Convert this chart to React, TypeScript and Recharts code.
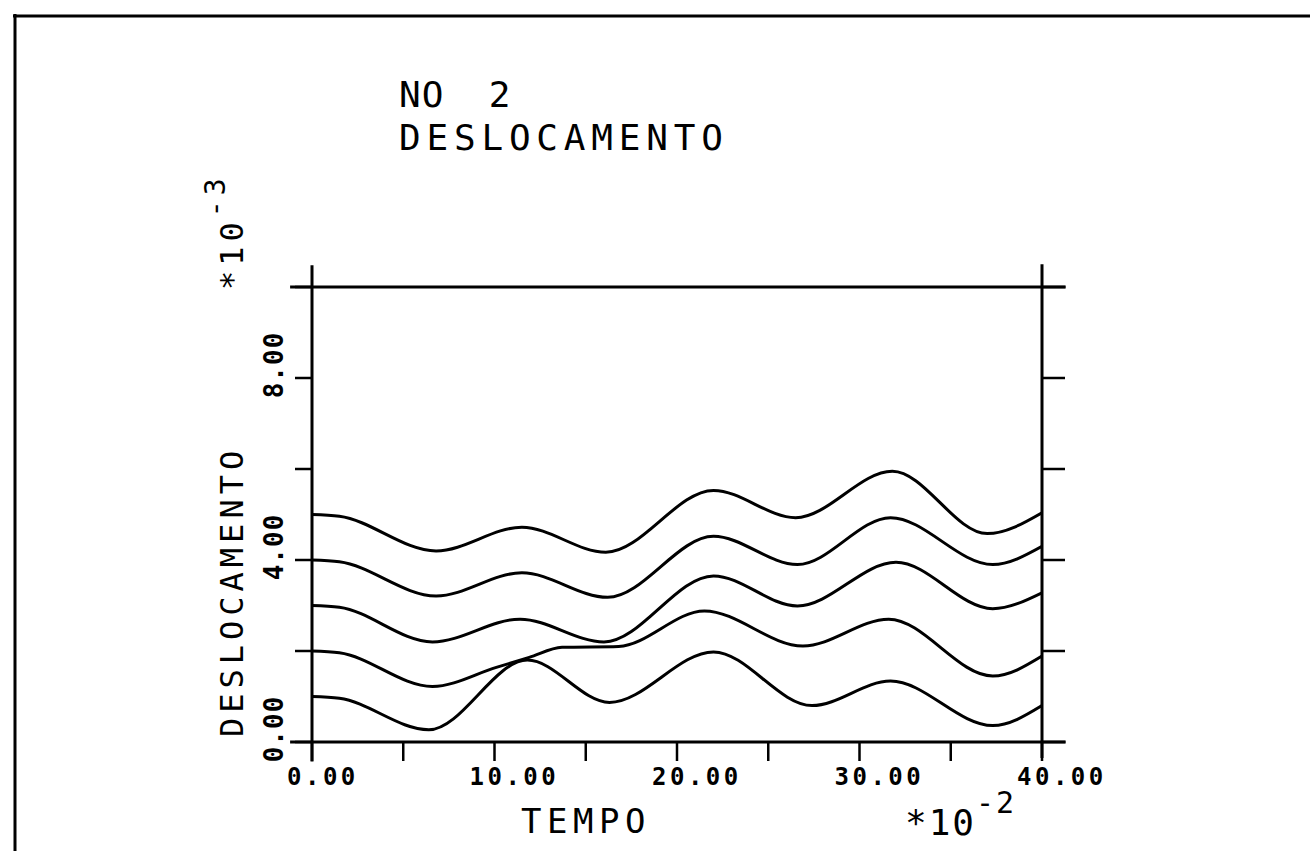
import React from "react";
import { LineChart, Line, XAxis, YAxis, ReferenceLine } from "recharts";

// tempo (*10^-2) e deslocamento (*10^-3), uma curva por par
const tempo1 = [0, 1.5, 6.8, 11.5, 16.1, 22.0, 26.5, 31.8, 37.0, 40];
const desl1 = [5.0, 4.96, 4.2, 4.72, 4.17, 5.53, 4.93, 5.95, 4.58, 5.04];

const tempo2 = [0, 1.5, 6.8, 11.5, 16.2, 22.0, 26.6, 31.7, 37.3, 40];
const desl2 = [4.0, 3.96, 3.21, 3.72, 3.18, 4.52, 3.9, 4.93, 3.9, 4.3];

const tempo3 = [0, 1.5, 6.6, 11.4, 16.0, 22.0, 26.6, 32.0, 37.3, 40];
const desl3 = [3.0, 2.96, 2.2, 2.7, 2.2, 3.65, 2.99, 3.95, 2.93, 3.28];

const tempo4 = [0, 1.5, 6.6, 10.1, 11.9, 13.7, 16.8, 21.5, 26.9, 31.6, 37.3, 40];
const desl4 = [2.0, 1.96, 1.22, 1.64, 1.86, 2.08, 2.1, 2.88, 2.11, 2.7, 1.45, 1.89];

const tempo5 = [0, 1.5, 6.4, 11.8, 16.3, 22.0, 27.4, 31.7, 37.3, 40];
const desl5 = [1.0, 0.96, 0.27, 1.8, 0.87, 1.98, 0.8, 1.34, 0.36, 0.8];

const xTicks = [0, 5, 10, 15, 20, 25, 30, 35, 40];
const xLabelled = [0, 10, 20, 30, 40];
const yTicks = [0, 2, 4, 6, 8, 10];
const yLabelled = [0, 4, 8];

const FONT = "'DejaVu Sans Mono', monospace";

const toPoints = (t: number[], d: number[]) => t.map((x, i) => ({ t: x, d: d[i] }));

const curvas = [
  { name: "curva 1", data: toPoints(tempo1, desl1) },
  { name: "curva 2", data: toPoints(tempo2, desl2) },
  { name: "curva 3", data: toPoints(tempo3, desl3) },
  { name: "curva 4", data: toPoints(tempo4, desl4) },
  { name: "curva 5", data: toPoints(tempo5, desl5) },
];

const semRotulo = () => <g />;

const rotuloX = (props: any) => {
  const { x, y, payload } = props;
  if (!xLabelled.includes(payload.value)) return <g />;
  return (
    <text x={x - 25} y={y + 22} fontFamily={FONT} fontSize={24} fontWeight="bold" letterSpacing={3.5} fill="#000">
      {payload.value.toFixed(2)}
    </text>
  );
};

const rotuloY = (props: any) => {
  const { x, y, payload } = props;
  if (!yLabelled.includes(payload.value)) return <g />;
  return (
    <text
      transform={`translate(${x - 10}, ${y - 13}) rotate(-90)`}
      textAnchor="middle"
      fontFamily={FONT}
      fontSize={26}
      fontWeight="bold"
      letterSpacing={1}
      fill="#000"
    >
      {payload.value.toFixed(2)}
    </text>
  );
};

const traco = { stroke: "#000", strokeWidth: 2.5 };

const App: React.FC = () => {
  return (
    <div style={{ position: "absolute", left: 0, top: 0, width: 1310, height: 851, background: "#fff" }}>
      <LineChart
        width={1310}
        height={851}
        margin={{ top: 257, right: 228, bottom: 49, left: 232 }}
      >
        <XAxis
          xAxisId="b"
          dataKey="t"
          type="number"
          domain={[0, 40]}
          ticks={xTicks}
          interval={0}
          allowDataOverflow
          height={60}
          tickSize={19}
          axisLine={false}
          tickLine={traco}
          tick={rotuloX}
        />
        <XAxis
          xAxisId="t"
          orientation="top"
          type="number"
          domain={[0, 40]}
          ticks={xTicks}
          interval={0}
          allowDataOverflow
          height={30}
          tickSize={23}
          axisLine={false}
          tickLine={traco}
          tick={semRotulo}
        />
        <YAxis
          yAxisId="l"
          type="number"
          domain={[0, 10]}
          ticks={yTicks}
          interval={0}
          allowDataOverflow
          width={80}
          tickSize={17}
          axisLine={false}
          tickLine={traco}
          tick={rotuloY}
        />
        <YAxis
          yAxisId="r"
          orientation="right"
          type="number"
          domain={[0, 10]}
          ticks={yTicks}
          interval={0}
          allowDataOverflow
          width={40}
          tickSize={23}
          axisLine={false}
          tickLine={traco}
          tick={semRotulo}
        />
        {/* moldura do gráfico, prolongada além dos eixos como no original */}
        <ReferenceLine xAxisId="b" yAxisId="l" ifOverflow="visible" stroke="#000" strokeWidth={3}
          segment={[{ x: -1.2, y: 10 }, { x: 41.3, y: 10 }]} />
        <ReferenceLine xAxisId="b" yAxisId="l" ifOverflow="visible" stroke="#000" strokeWidth={3}
          segment={[{ x: -1.2, y: 0 }, { x: 41.3, y: 0 }]} />
        <ReferenceLine xAxisId="b" yAxisId="l" ifOverflow="visible" stroke="#000" strokeWidth={3}
          segment={[{ x: 0, y: -0.43 }, { x: 0, y: 10.48 }]} />
        <ReferenceLine xAxisId="b" yAxisId="l" ifOverflow="visible" stroke="#000" strokeWidth={3}
          segment={[{ x: 40, y: -0.35 }, { x: 40, y: 10.5 }]} />
        {curvas.map((c) => (
          <Line
            key={c.name}
            name={c.name}
            data={c.data}
            dataKey="d"
            xAxisId="b"
            yAxisId="l"
            type="monotone"
            stroke="#000"
            strokeWidth={3}
            dot={false}
            activeDot={false}
            isAnimationActive={false}
          />
        ))}
      </LineChart>
      <svg
        width={1310}
        height={851}
        style={{ position: "absolute", left: 0, top: 0, pointerEvents: "none" }}
      >
        {/* borda da folha */}
        <line x1={13} y1={16} x2={1310} y2={16} stroke="#000" strokeWidth={3} />
        <line x1={15} y1={14} x2={15} y2={851} stroke="#000" strokeWidth={3} />
        <g fontFamily={FONT} fill="#000">
          <text x={399} y={107} fontSize={36} letterSpacing={1}>
            <tspan>NO</tspan>
            <tspan x={466}> 2</tspan>
          </text>
          <text x={399} y={150} fontSize={36} letterSpacing={5.8}>DESLOCAMENTO</text>
          <text x={521} y={833} fontSize={34} letterSpacing={5.5}>TEMPO</text>
          <text x={905} y={835} fontSize={36} letterSpacing={2}>
            *10<tspan dy={-22} fontSize={30}>-2</tspan>
          </text>
          <text transform="translate(243, 737) rotate(-90)" fontSize={32} letterSpacing={5}>
            DESLOCAMENTO
          </text>
          <text transform="translate(243, 290) rotate(-90)" fontSize={32} letterSpacing={5}>
            *10<tspan dy={-18} fontSize={28}>-3</tspan>
          </text>
        </g>
      </svg>
    </div>
  );
};

export default App;
